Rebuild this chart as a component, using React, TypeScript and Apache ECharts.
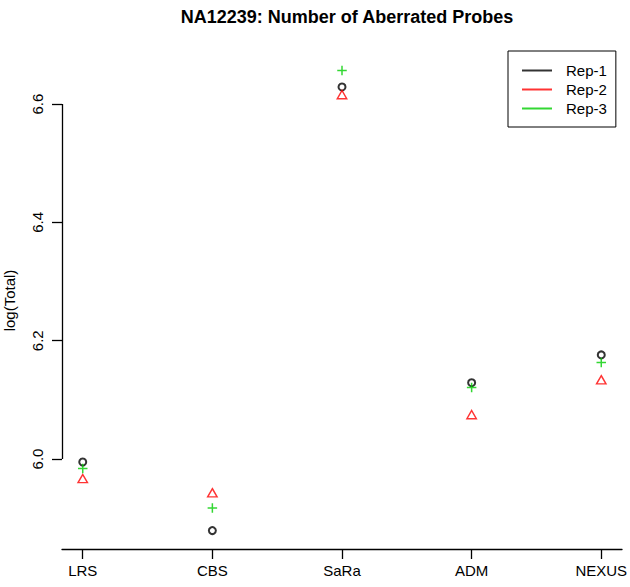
import React, { useEffect, useRef } from "react";
import * as echarts from "echarts";

const categories = ["LRS", "CBS", "SaRa", "ADM", "NEXUS"];
const rep1 = [5.995, 5.879, 6.629, 6.129, 6.176];
const rep2 = [5.967, 5.943, 6.616, 6.075, 6.134];
const rep3 = [5.984, 5.917, 6.657, 6.121, 6.163];
const yTicks = [6.0, 6.2, 6.4, 6.6];
const seriesNames = ["Rep-1", "Rep-2", "Rep-3"];
const colors = ["#000000", "#FF0000", "#00CD00"];

const FONT = "'Liberation Sans', Arial, Helvetica, sans-serif";

export default function App() {
  const ref = useRef<HTMLDivElement>(null);
  useEffect(() => {
    document.body.style.margin = "0";
    document.body.style.overflow = "hidden";
    const chart = echarts.init(ref.current!, undefined, { renderer: "svg" });
    const all = [...rep1, ...rep2, ...rep3];
    const lo = Math.min(...all);
    const hi = Math.max(...all);
    const yMin = lo - 0.04 * (hi - lo);
    const yMax = hi + 0.04 * (hi - lo);
    const xMin = 1 - 0.04 * (categories.length - 1);
    const xMax = categories.length + 0.04 * (categories.length - 1);
    const xTicks = categories.map((_, i) => i + 1);
    const toPts = (arr: number[]) => arr.map((v, i) => [i + 1, v]);

    chart.setOption({
      animation: false,
      backgroundColor: "#ffffff",
      textStyle: { fontFamily: FONT },
      title: {
        text: "NA12239: Number of Aberrated Probes",
        left: 342,
        textAlign: "center",
        top: 3,
        textStyle: { fontFamily: FONT, fontSize: 18, fontWeight: "bold", color: "#000" },
      },
      grid: { left: 62, right: 8, top: 52, bottom: 38, containLabel: false, outerBoundsMode: "none" },
      legend: {
        left: 508,
        top: 51,
        orient: "vertical",
        icon: "rect",
        itemWidth: 30,
        itemHeight: 2,
        itemGap: 4,
        padding: [12, 9, 11, 14],
        borderColor: "#000",
        borderWidth: 1,
        textStyle: { fontFamily: FONT, fontSize: 15, color: "#000", padding: [0, 0, 0, 9] },
        data: seriesNames.map((n, i) => ({ name: n, itemStyle: { color: colors[i], borderWidth: 0 } })),
      },
      xAxis: {
        type: "value",
        min: xMin,
        max: xMax,
        axisLine: { show: true, onZero: false, lineStyle: { color: "#000", width: 1.3 } },
        axisTick: { show: true, length: 10, customValues: xTicks, lineStyle: { color: "#000", width: 1.3 } },
        axisLabel: {
          customValues: xTicks,
          margin: 14,
          fontSize: 15,
          color: "#000",
          fontFamily: FONT,
          formatter: (v: number) => categories[Math.round(v) - 1] ?? "",
        },
        splitLine: { show: false },
      },
      yAxis: {
        type: "value",
        min: yMin,
        max: yMax,
        name: "log(Total)",
        nameLocation: "middle",
        nameGap: 45,
        nameRotate: 90,
        nameTextStyle: { fontFamily: FONT, fontSize: 15, color: "#000" },
        axisLine: { show: false },
        axisTick: { show: true, length: 10, customValues: yTicks, lineStyle: { color: "#000", width: 1.3 } },
        axisLabel: {
          customValues: yTicks,
          rotate: 90,
          margin: 17,
          fontSize: 15,
          color: "#000",
          fontFamily: FONT,
          formatter: (v: number) => v.toFixed(1),
        },
        splitLine: { show: false },
      },
      series: [
        {
          name: seriesNames[0],
          type: "scatter",
          clip: false,
          symbol: "emptyCircle",
          symbolSize: 7,
          itemStyle: { color: colors[0], borderColor: colors[0], borderWidth: 0.9 },
          data: toPts(rep1),
          markLine: {
            silent: true,
            symbol: "none",
            label: { show: false },
            lineStyle: { color: "#000", width: 1.3, type: "solid" },
            data: [[{ coord: [xMin, yTicks[0]] }, { coord: [xMin, yTicks[yTicks.length - 1]] }]],
          },
        },
        {
          name: seriesNames[1],
          type: "scatter",
          clip: false,
          symbol: "path://M5,0L10,8.66L0,8.66Z",
          symbolSize: [9.5, 8.2],
          itemStyle: { color: "transparent", borderColor: colors[1], borderWidth: 1.4 },
          data: toPts(rep2),
        },
        {
          name: seriesNames[2],
          type: "scatter",
          clip: false,
          symbol: "path://M0,5L10,5M5,0L5,10",
          symbolSize: 9.5,
          itemStyle: { color: "transparent", borderColor: colors[2], borderWidth: 1.5 },
          data: toPts(rep3),
        },
      ],
    });
    return () => chart.dispose();
  }, []);
  return <div ref={ref} style={{ width: 630, height: 587 }} />;
}
